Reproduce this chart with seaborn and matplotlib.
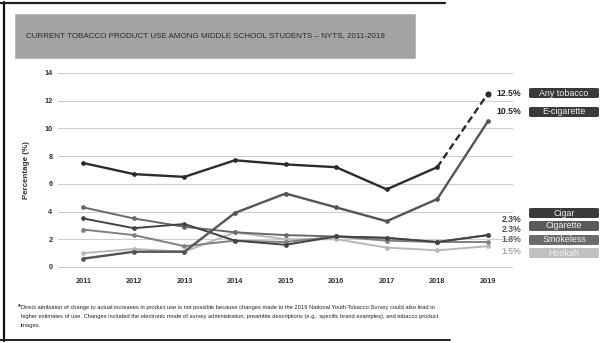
import matplotlib
matplotlib.use("Agg")
import matplotlib.pyplot as plt
import seaborn as sns
import pandas as pd
from matplotlib.patches import FancyBboxPatch, Rectangle
from matplotlib.lines import Line2D

sns.set_theme(style="white")
plt.rcParams['font.family'] = ['Liberation Sans', 'DejaVu Sans']

years = [2011, 2012, 2013, 2014, 2015, 2016, 2017, 2018, 2019]
any_tobacco = [7.5, 6.7, 6.5, 7.7, 7.4, 7.2, 5.6, 7.2, 12.5]
e_cigarette = [0.6, 1.1, 1.1, 3.9, 5.3, 4.3, 3.3, 4.9, 10.5]
cigar = [3.5, 2.8, 3.1, 1.9, 1.6, 2.2, 2.1, 1.8, 2.3]
cigarette = [4.3, 3.5, 2.9, 2.5, 2.3, 2.2, 2.1, 1.8, 2.3]
smokeless = [2.7, 2.3, 1.5, 1.9, 1.8, 2.2, 1.9, 1.8, 1.8]
hookah = [1.0, 1.3, 1.1, 2.5, 2.0, 2.0, 1.4, 1.2, 1.5]

series_names = ["Any tobacco", "E-cigarette", "Cigar", "Cigarette", "Smokeless", "Hookah"]
series_vals = [any_tobacco, e_cigarette, cigar, cigarette, smokeless, hookah]
end_labels = ["12.5%", "10.5%", "2.3%", "2.3%", "1.8%", "1.5%"]
y_ticks = [0, 2, 4, 6, 8, 10, 12, 14]
colors = {"Any tobacco": "#2b2b2b", "E-cigarette": "#555555", "Cigar": "#444444",
          "Cigarette": "#6a6a6a", "Smokeless": "#808080", "Hookah": "#b8b8b8"}

fig = plt.figure(figsize=(6.02, 3.43), dpi=100)
ax = fig.add_axes([0.0963, 0.2055, 0.756, 0.598])

for t in y_ticks:
    ax.axhline(t, color="#cfcfcf", lw=0.8, zorder=0)

rows = []
for name, vals in zip(series_names, series_vals):
    n = len(years) - 1 if name == "Any tobacco" else len(years)
    for yr, v in zip(years[:n], vals[:n]):
        rows.append({"year": yr, "value": v, "series": name})
df = pd.DataFrame(rows)

draw_order = ["Hookah", "Smokeless", "Cigarette", "Cigar", "E-cigarette", "Any tobacco"]
for name in draw_order:
    sub = df[df.series == name]
    sns.lineplot(data=sub, x="year", y="value", ax=ax, color=colors[name],
                 lw=1.7 if name in ("Any tobacco", "E-cigarette") else 1.4,
                 marker="o", markersize=3.4, markeredgewidth=0, legend=False, zorder=3)

dash_df = pd.DataFrame({"year": years[-2:], "value": any_tobacco[-2:]})
sns.lineplot(data=dash_df, x="year", y="value", ax=ax, color=colors["Any tobacco"],
             lw=1.7, linestyle=(0, (3, 1.6)), legend=False, zorder=3)
ax.plot(years[-1], any_tobacco[-1], "o", color=colors["Any tobacco"], ms=3.4, zorder=4)

ax.set_xlim(2010.5, 2019.5)
ax.set_ylim(-0.4, 14.4)
ax.set_xticks(years)
ax.set_xticklabels([str(y) for y in years], fontsize=5.3, fontweight="bold", color="#333333")
ax.set_yticks(y_ticks)
ax.set_yticklabels([str(t) for t in y_ticks], fontsize=5.3, fontweight="bold", color="#333333")
ax.tick_params(axis="both", length=0, pad=4)
ax.set_xlabel("")
ax.set_ylabel("Percentage (%)", fontsize=5.8, fontweight="bold", color="#333333", labelpad=10)
for s in ax.spines.values():
    s.set_visible(False)

W, H = 602, 343
def fx(px): return px / W
def fy(py): return 1 - py / H

pct_y = [93, 112, 219, 229, 240, 251]
box_y = [93, 112, 213, 226, 240, 253]
pct_colors = ["#222222", "#222222", "#444444", "#555555", "#666666", "#aaaaaa"]
box_colors = ["#3a3a3a", "#3a3a3a", "#3a3a3a", "#5a5a5a", "#6a6a6a", "#c0c0c0"]
for lab, py, pc in zip(end_labels, pct_y, pct_colors):
    fig.text(fx(521), fy(py), lab, fontsize=6.2, fontweight="bold", color=pc,
             ha="right", va="center")
for name, py, bc in zip(series_names, box_y, box_colors):
    box = FancyBboxPatch((fx(529), fy(py + 5)), fx(70), 10 / H,
                         boxstyle="round,pad=0,rounding_size=0.004",
                         transform=fig.transFigure, facecolor=bc, edgecolor="none")
    fig.patches.append(box)
    fig.text(fx(564), fy(py), name, fontsize=6.4, color="#f0f0f0",
             ha="center", va="center")

banner = Rectangle((fx(15), fy(58)), fx(400), 44 / H, transform=fig.transFigure,
                   facecolor="#a3a3a3", edgecolor="#b5b5b5", lw=0.6)
fig.patches.append(banner)
fig.text(fx(26), fy(36), "CURRENT TOBACCO PRODUCT USE AMONG MIDDLE SCHOOL STUDENTS \u2013 NYTS, 2011-2019",
         fontsize=5.8, color="#2a2a2a", ha="left", va="center")

foot = ("Direct attribution of change to actual increases in product use is not possible because changes made to the 2019 National Youth Tobacco Survey could also lead to\n"
        "higher estimates of use. Changes included the electronic mode of survey administration, preamble descriptions (e.g., specific brand examples), and tobacco product\n"
        "images.")
fig.text(fx(18), fy(303), "*", fontsize=5.5, color="#222222", ha="left", va="top", fontweight="bold")
fig.text(fx(21), fy(305), foot, fontsize=4.15, color="#222222", ha="left", va="top", linespacing=2.0)

fig.add_artist(Line2D([fx(4), fx(4)], [fy(2), fy(341)], transform=fig.transFigure, color="#111111", lw=1.6))
fig.add_artist(Line2D([fx(0), fx(445)], [fy(3), fy(3)], transform=fig.transFigure, color="#222222", lw=1.6))
fig.add_artist(Line2D([fx(0), fx(450)], [fy(340), fy(340)], transform=fig.transFigure, color="#222222", lw=1.4))

fig.savefig("out.png", dpi=100)
